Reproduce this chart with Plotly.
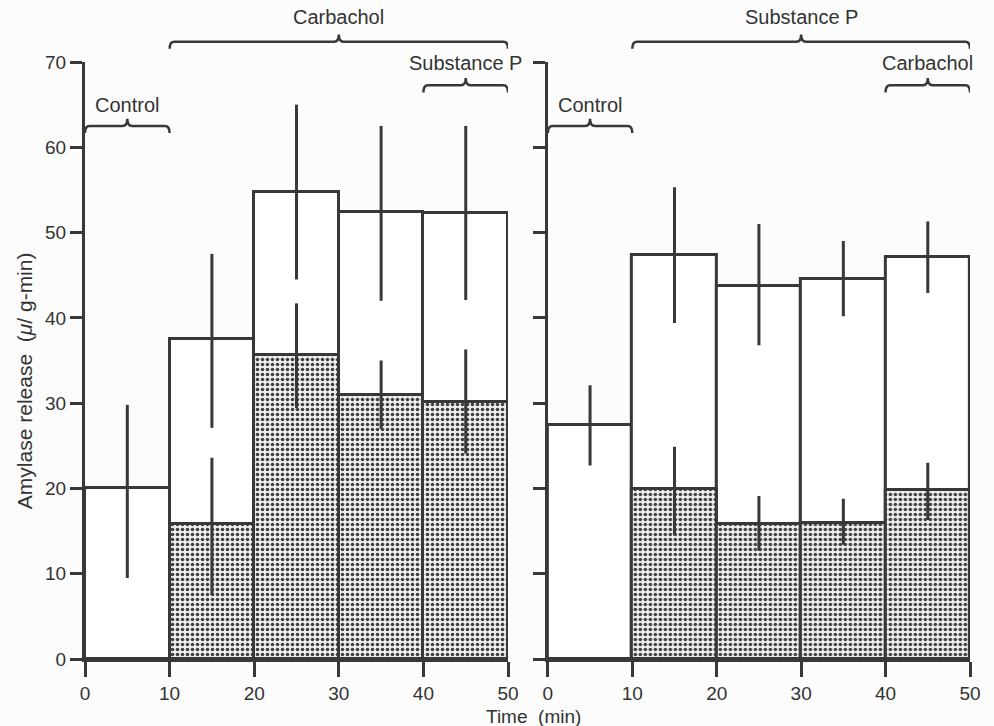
import plotly.graph_objects as go

# ---------------- data ----------------
x_centers = [5, 15, 25, 35, 45]
x_ticks = [0, 10, 20, 30, 40, 50]
y_ticks = [0, 10, 20, 30, 40, 50, 60, 70]

# Left panel (Control -> Carbachol -> + Substance P)
left_total = [20.0, 37.5, 54.8, 52.4, 52.3]
left_total_hi = [29.8, 47.5, 65.0, 62.5, 62.5]
left_total_lo = [9.5, 27.1, 44.5, 42.0, 42.1]
left_shaded = [None, 15.8, 35.6, 31.0, 30.1]
left_shaded_hi = [None, 23.6, 41.7, 35.0, 36.3]
left_shaded_lo = [None, 7.5, 29.4, 27.0, 24.1]

# Right panel (Control -> Substance P -> + Carbachol)
right_total = [27.4, 47.4, 43.7, 44.5, 47.1]
right_total_hi = [32.1, 55.3, 51.0, 49.0, 51.3]
right_total_lo = [22.7, 39.4, 36.8, 40.2, 42.9]
right_shaded = [None, 19.9, 15.8, 15.9, 19.8]
right_shaded_hi = [None, 24.9, 19.1, 18.8, 23.0]
right_shaded_lo = [None, 14.5, 12.7, 13.4, 16.3]

# Bracket labels: (axis, label, x start, x end, bracket level (paper), label level (paper))
brackets = [
    ("x", "Control", 0, 10, 0.893, 0.928),
    ("x", "Carbachol", 10, 50, 1.034, 1.075),
    ("x", "Substance P", 40, 50, 0.961, 0.998),
    ("x2", "Control", 0, 10, 0.893, 0.928),
    ("x2", "Substance P", 10, 50, 1.034, 1.075),
    ("x2", "Carbachol", 40, 50, 0.961, 0.998),
]

INK = "#383838"
BG = "#fcfcfc"
FONT = "Liberation Sans, Arial, sans-serif"


def err(vals, hi, lo):
    up = [None if v is None else h - v for v, h in zip(vals, hi)]
    dn = [None if v is None else v - l for v, l in zip(vals, lo)]
    return up, dn


fig = go.Figure()


def add_panel(xa, ya, total, thi, tlo, shaded, shi, slo):
    up, dn = err(total, thi, tlo)
    fig.add_trace(go.Bar(
        x=x_centers, y=total, width=10, xaxis=xa, yaxis=ya,
        marker=dict(color="white", line=dict(color=INK, width=3)),
        error_y=dict(type="data", array=up, arrayminus=dn, symmetric=False,
                     width=0, thickness=3, color=INK),
        showlegend=False, hoverinfo="skip",
    ))
    sup, sdn = err(shaded, shi, slo)
    fig.add_trace(go.Bar(
        x=x_centers, y=shaded, width=10, xaxis=xa, yaxis=ya,
        marker=dict(color="#eeeeee", line=dict(color=INK, width=3),
                    pattern=dict(shape=".", fgcolor="#404040", bgcolor="#eeeeee",
                                 size=5, solidity=0.4, fillmode="replace")),
        error_y=dict(type="data", array=sup, arrayminus=sdn, symmetric=False,
                     width=0, thickness=3, color=INK),
        showlegend=False, hoverinfo="skip",
    ))


add_panel("x", "y", left_total, left_total_hi, left_total_lo,
          left_shaded, left_shaded_hi, left_shaded_lo)
add_panel("x2", "y2", right_total, right_total_hi, right_total_lo,
          right_shaded, right_shaded_hi, right_shaded_lo)

# ---------------- brackets ----------------
shapes = []
annotations = []
h = 0.012  # hook height (paper)
r = 0.55   # hook horizontal extent (x units)
for xa, label, x0, x1, yl, ylab in brackets:
    xm = (x0 + x1) / 2
    path = (f"M {x0},{yl - h} Q {x0},{yl} {x0 + r},{yl} "
            f"L {xm - r},{yl} Q {xm},{yl} {xm},{yl + h} "
            f"Q {xm},{yl} {xm + r},{yl} "
            f"L {x1 - r},{yl} Q {x1},{yl} {x1},{yl - h}")
    shapes.append(dict(type="path", path=path, xref=xa, yref="paper",
                       line=dict(color=INK, width=2.5)))
    annotations.append(dict(x=xm, y=ylab, xref=xa, yref="paper", text=label,
                            showarrow=False, xanchor="center", yanchor="middle",
                            font=dict(family=FONT, size=20, color="#333333")))

annotations.append(dict(x=-0.069, y=0.467, xref="paper", yref="paper",
                        text="Amylase release  (<i>μ</i>/ g-min)", textangle=-90,
                        showarrow=False, xanchor="center", yanchor="middle",
                        font=dict(family=FONT, size=21, color="#333333")))
annotations.append(dict(x=0.507, y=-0.096, xref="paper", yref="paper",
                        text="Time  (min)", showarrow=False,
                        xanchor="center", yanchor="middle",
                        font=dict(family=FONT, size=19, color="#333333")))

xaxis_common = dict(range=[0, 50], tickvals=x_ticks, ticks="outside", ticklen=15,
                    tickwidth=3, tickcolor=INK, showline=True, linewidth=3,
                    linecolor=INK, showgrid=False, zeroline=False,
                    tickfont=dict(family=FONT, size=19, color="#333333"))
yaxis_common = dict(range=[0, 70], tickvals=y_ticks, ticks="outside", ticklen=12,
                    tickwidth=3, tickcolor=INK, showline=True, linewidth=3,
                    linecolor=INK, showgrid=False, zeroline=False,
                    tickfont=dict(family=FONT, size=19, color="#333333"))

fig.update_layout(
    width=994, height=726,
    margin=dict(l=85, r=24, t=62, b=67),
    paper_bgcolor=BG, plot_bgcolor=BG,
    barmode="overlay", bargap=0,
    xaxis=dict(domain=[0, 0.478], anchor="y", **xaxis_common),
    xaxis2=dict(domain=[0.523, 1.0], anchor="y2", **xaxis_common),
    yaxis=dict(anchor="x", **yaxis_common),
    yaxis2=dict(anchor="x2", showticklabels=False, **yaxis_common),
    shapes=shapes,
    annotations=annotations,
    font=dict(family=FONT, color="#333333"),
)

fig.write_html("out.html")
